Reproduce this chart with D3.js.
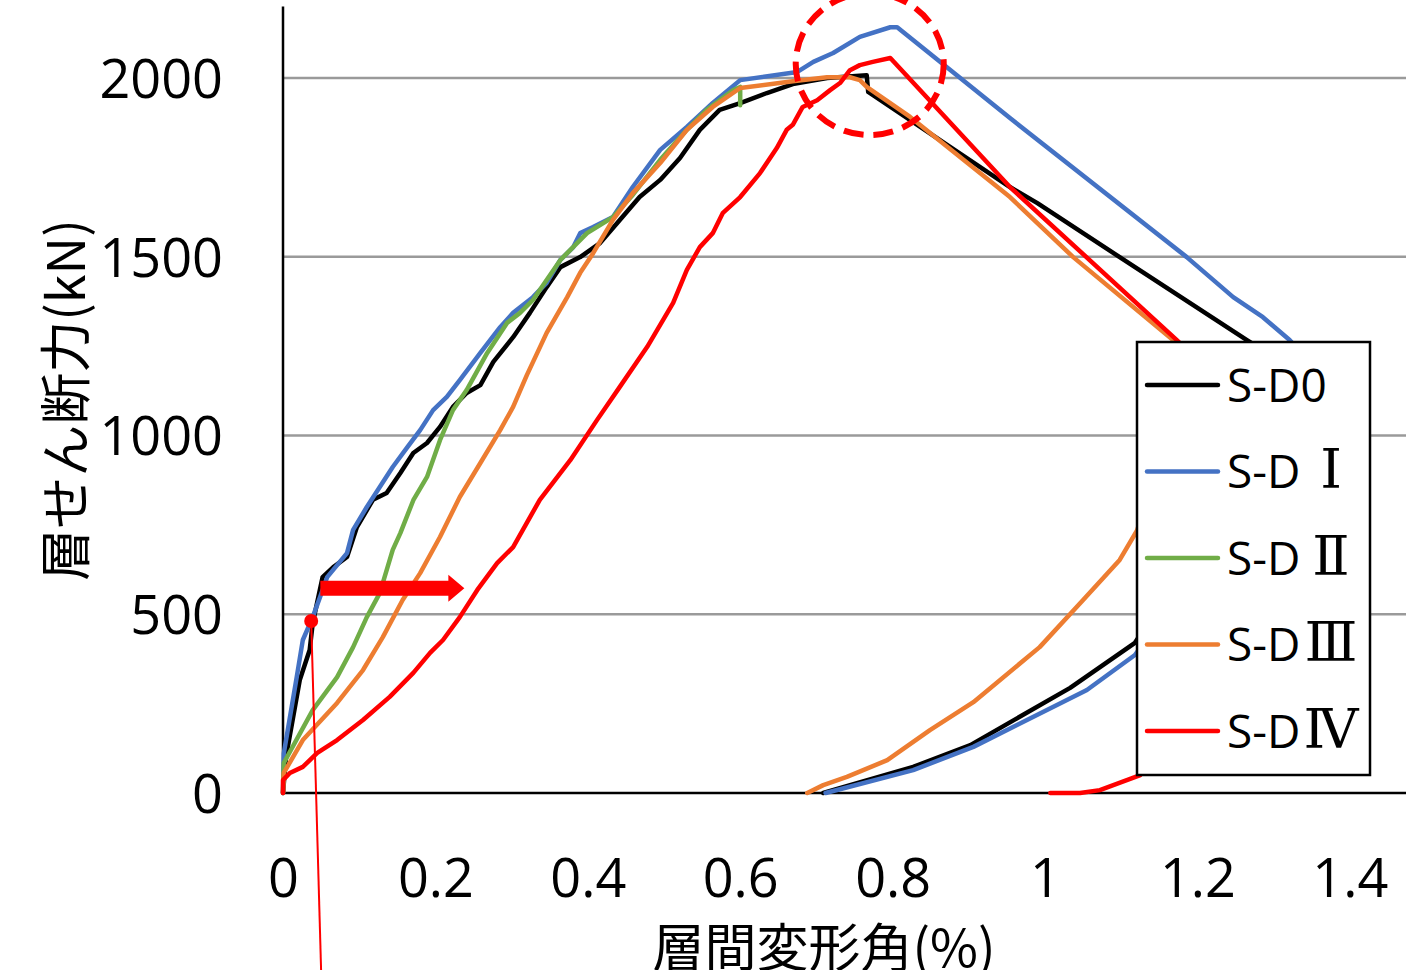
<!DOCTYPE html>
<html><head><meta charset="utf-8">
<script src="https://cdn.jsdelivr.net/npm/d3@7"></script>
<style>html,body{margin:0;padding:0;background:#fff;overflow:hidden}</style>
</head><body>
<script>
// ---- data ----
const xTicks = [0, 0.2, 0.4, 0.6, 0.8, 1, 1.2, 1.4];
const xTickLabels = ["0", "0.2", "0.4", "0.6", "0.8", "1", "1.2", "1.4"];
const yTicks = [0, 500, 1000, 1500, 2000];
const xTitle = "層間変形角(%)";
const yTitle = "層せん断力(kN)";
const seriesNames = ["S-D", "S-D", "S-D", "S-D", "S-D"];
const seriesSuffix = ["0", "Ⅰ", "Ⅱ", "Ⅲ", "Ⅳ"];
const seriesColors = ["#000000", "#4472C4", "#70AD47", "#ED7D31", "#FF0000"];

const sd0 = [[0,0],[0.004,101],[0.022,316],[0.035,400],[0.039,475],[0.052,604],[0.066,632],[0.084,660],[0.097,744],[0.118,820],[0.136,839],[0.154,895],[0.171,951],[0.189,979],[0.206,1024],[0.223,1080],[0.241,1119],[0.259,1141],[0.276,1206],[0.302,1275],[0.324,1343],[0.346,1415],[0.364,1471],[0.390,1499],[0.416,1538],[0.442,1603],[0.468,1667],[0.495,1715],[0.521,1776],[0.547,1855],[0.573,1911],[0.600,1930],[0.635,1958],[0.669,1983],[0.714,2000],[0.766,2008],[0.768,1961],[0.954,1695],[0.990,1650],[1.098,1499],[1.265,1267],[1.302,1217],[1.19,650],[1.118,420],[1.033,294],[0.902,134],[0.827,73],[0.709,0]];
const sd1 = [[0,0],[0.001,110],[0.018,324],[0.026,428],[0.039,492],[0.052,568],[0.058,604],[0.084,671],[0.092,736],[0.110,800],[0.127,856],[0.144,912],[0.163,967],[0.180,1015],[0.197,1071],[0.215,1108],[0.232,1155],[0.259,1231],[0.285,1303],[0.302,1343],[0.328,1387],[0.346,1427],[0.364,1491],[0.381,1527],[0.390,1566],[0.407,1583],[0.433,1611],[0.459,1695],[0.495,1799],[0.530,1863],[0.564,1930],[0.600,1994],[0.675,2017],[0.696,2045],[0.722,2070],[0.757,2115],[0.797,2142],[0.806,2142],[0.954,1888],[1.186,1499],[1.247,1387],[1.286,1331],[1.321,1267],[1.335,1235],[1.19,600],[1.118,386],[1.055,288],[0.906,129],[0.827,64],[0.712,0]];
const sd2 = [[0,0],[0.001,84],[0.039,232],[0.071,324],[0.092,408],[0.110,492],[0.127,559],[0.144,680],[0.154,727],[0.171,819],[0.189,884],[0.206,987],[0.223,1071],[0.241,1127],[0.268,1231],[0.294,1315],[0.311,1343],[0.328,1379],[0.346,1435],[0.364,1491],[0.399,1566],[0.433,1611],[0.459,1673],[0.495,1771],[0.530,1855],[0.556,1911],[0.591,1966],[0.600,1975],[0.600,1924]];
const sd3 = [[0,0],[0.001,56],[0.026,148],[0.071,252],[0.105,344],[0.131,436],[0.157,540],[0.180,615],[0.206,716],[0.232,828],[0.259,923],[0.285,1015],[0.302,1080],[0.320,1169],[0.346,1287],[0.373,1387],[0.390,1455],[0.407,1510],[0.433,1603],[0.459,1678],[0.495,1762],[0.530,1855],[0.564,1919],[0.600,1972],[0.669,1991],[0.714,2002],[0.744,2002],[0.757,1994],[0.766,1975],[0.823,1891],[0.954,1667],[1.037,1499],[1.168,1267],[1.19,1220],[1.121,735],[1.098,652],[1.050,540],[0.993,408],[0.906,254],[0.849,176],[0.793,92],[0.740,45],[0.709,22],[0.688,0]];
const sd4 = [[0,0],[0,36],[0.009,56],[0.026,73],[0.045,112],[0.071,148],[0.105,204],[0.140,269],[0.171,336],[0.193,392],[0.210,428],[0.232,492],[0.255,568],[0.281,643],[0.302,688],[0.337,820],[0.377,931],[0.412,1043],[0.442,1136],[0.478,1248],[0.512,1371],[0.530,1463],[0.547,1527],[0.564,1566],[0.577,1622],[0.600,1667],[0.626,1734],[0.648,1804],[0.661,1855],[0.669,1869],[0.682,1919],[0.701,1938],[0.718,1966],[0.731,1986],[0.744,2022],[0.757,2036],[0.774,2045],[0.797,2056],[0.954,1695],[1.173,1267],[1.203,1206],[1.125,50],[1.072,8],[1.046,0],[1.007,0]];
const seriesData = [sd0, sd1, sd2, sd3, sd4];

// annotations (data units)
const annoDot = [0.037, 481];
const annoLineEnd = [0.05, -495];
const annoArrow = [[0.049, 573], [0.238, 573]];
const annoCircle = [0.770, 2039];

// ---- layout ----
const W = 1406, H = 970;
const x = d3.scaleLinear().domain([0, 1.5]).range([283, 1426]);
const y = d3.scaleLinear().domain([0, 2200]).range([793, 6.5]);
const numFont = "'Open Sans', 'Noto Sans', sans-serif";
const cjkFont = "'Noto Sans CJK JP', 'Noto Sans', sans-serif";

const svg = d3.select("body").append("svg").attr("width", W).attr("height", H);

// gridlines
svg.append("g").selectAll("line").data(yTicks.filter(d => d > 0)).join("line")
  .attr("x1", x(0)).attr("x2", x(1.5)).attr("y1", d => y(d)).attr("y2", d => y(d))
  .attr("stroke", "#9a9a9a").attr("stroke-width", 2.5);

// y axis labels
const gy = svg.append("g").attr("transform", `translate(${x(0)},0)`)
  .call(d3.axisLeft(y).tickValues(yTicks).tickSize(0).tickPadding(60).tickFormat(d3.format("d")));
gy.select(".domain").remove();
gy.selectAll("text").attr("font-family", numFont).attr("font-size", 54).attr("fill", "#000").attr("dy", "0.36em");

// x axis labels
const gx = svg.append("g").attr("transform", `translate(0,${y(0)})`)
  .call(d3.axisBottom(x).tickValues(xTicks).tickSize(0).tickFormat((d, i) => xTickLabels[i]));
gx.select(".domain").remove();
gx.selectAll("text").attr("font-family", numFont).attr("font-size", 54).attr("fill", "#000").attr("y", 85).attr("dy", "0.36em");

// axis lines
svg.append("line").attr("x1", x(0)).attr("x2", x(0)).attr("y1", y(2200)).attr("y2", y(0))
  .attr("stroke", "#000").attr("stroke-width", 2.5);
svg.append("line").attr("x1", x(0)).attr("x2", x(1.5)).attr("y1", y(0)).attr("y2", y(0))
  .attr("stroke", "#000").attr("stroke-width", 2.5);

// titles
svg.append("text").text(yTitle).attr("transform", `translate(62,400) rotate(-90)`)
  .attr("text-anchor", "middle").attr("dominant-baseline", "central")
  .attr("font-family", cjkFont).attr("font-size", 52).attr("fill", "#000");
svg.append("text").text(xTitle).attr("x", 824).attr("y", 944)
  .attr("text-anchor", "middle").attr("dominant-baseline", "central")
  .attr("font-family", cjkFont).attr("font-size", 52).attr("fill", "#000");

// series
const line = d3.line().x(d => x(d[0])).y(d => y(d[1]));
svg.append("g").selectAll("path").data(seriesData).join("path")
  .attr("d", line).attr("fill", "none")
  .attr("stroke", (d, i) => seriesColors[i]).attr("stroke-width", 4.5)
  .attr("stroke-linejoin", "round").attr("stroke-linecap", "round");

// legend
const lg = svg.append("g").attr("transform", "translate(1137,342)");
lg.append("rect").attr("width", 233).attr("height", 433).attr("fill", "#fff")
  .attr("stroke", "#000").attr("stroke-width", 2.5);
seriesNames.forEach((name, i) => {
  const ry = 43 + i * 86.5;
  lg.append("line").attr("x1", 10).attr("x2", 81).attr("y1", ry).attr("y2", ry)
    .attr("stroke", seriesColors[i]).attr("stroke-width", 4.5).attr("stroke-linecap", "round");
  const t = lg.append("text").attr("x", 90).attr("y", ry).attr("dy", 16.6)
    .attr("font-family", numFont).attr("font-size", 46).attr("fill", "#000").text(name);
  if (i === 0) {
    t.append("tspan").text(seriesSuffix[i]);
  } else {
    lg.append("text").attr("x", 194).attr("y", ry).attr("dy", 16.6)
      .attr("text-anchor", "middle")
      .attr("font-family", "'DejaVu Serif', 'Liberation Serif', 'Noto Sans CJK JP', serif")
      .attr("font-size", 55).attr("fill", "#000").text(seriesSuffix[i]);
  }
});

// annotations
const red = "#FF0000";
svg.append("line").attr("x1", x(annoDot[0])).attr("y1", y(annoDot[1]))
  .attr("x2", x(annoLineEnd[0])).attr("y2", y(annoLineEnd[1]))
  .attr("stroke", red).attr("stroke-width", 2);
svg.append("circle").attr("cx", x(annoDot[0])).attr("cy", y(annoDot[1])).attr("r", 7).attr("fill", red);
{
  const ax0 = x(annoArrow[0][0]), ax1 = x(annoArrow[1][0]), ay = y(annoArrow[0][1]);
  const headLen = 16, half = 13.5, body = 7.5;
  svg.append("path").attr("fill", red)
    .attr("d", `M${ax0},${ay - body}L${ax1 - headLen},${ay - body}L${ax1 - headLen},${ay - half}L${ax1},${ay}L${ax1 - headLen},${ay + half}L${ax1 - headLen},${ay + body}L${ax0},${ay + body}Z`);
}
svg.append("ellipse").attr("cx", x(annoCircle[0])).attr("cy", y(annoCircle[1]))
  .attr("rx", 74).attr("ry", 71).attr("fill", "none").attr("stroke", red)
  .attr("stroke-width", 6).attr("stroke-dasharray", "20 10");
</script>
</body></html>
